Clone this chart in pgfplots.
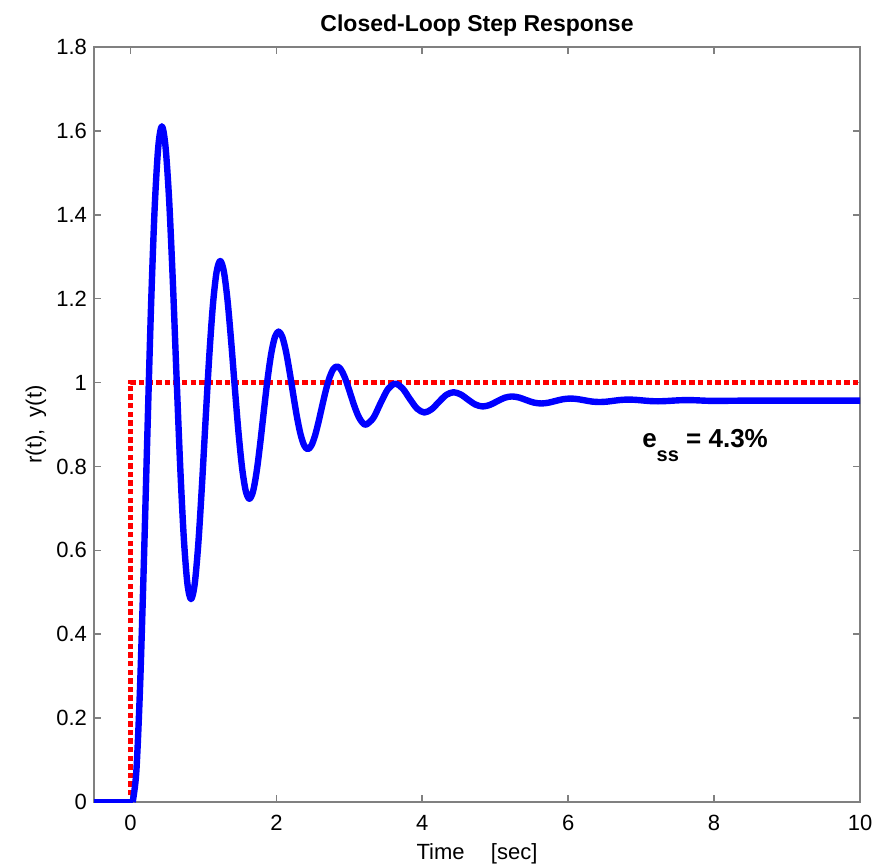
\documentclass[border=0pt]{standalone}
\usepackage{fontspec}
\setmainfont{Liberation Sans}
\usepackage{pgfplots}
\pgfplotsset{compat=1.18}
\definecolor{axgray}{RGB}{128,128,128}
\begin{document}
\begin{tikzpicture}
\begin{axis}[
  at={(0,0)}, anchor=south west,
  scale only axis, width=383pt, height=377.5pt,
  xmin=-0.5, xmax=10, ymin=0, ymax=1.8,
  xtick={0,2,4,6,8,10},
  ytick={0,0.2,0.4,0.6,0.8,1,1.2,1.4,1.6,1.8},
  tick align=inside, xtick pos=both, ytick pos=both,
  xticklabel pos=bottom, yticklabel pos=left,
  major tick length=3.5pt,
  axis line style={axgray, line width=0.8pt},
  tick style={axgray, line width=0.8pt},
  /pgf/number format/assume math mode=true,
  every tick label/.append style={font=\fontsize{11}{13}\selectfont, text=black},
  xticklabel style={yshift=-3pt},
  title={Closed-Loop Step Response},
  title style={at={(axis description cs:0.5,1)}, anchor=base, yshift=1.5pt,
               font=\fontsize{11.5}{13}\selectfont\bfseries},
  xlabel={Time\hspace{1.2em}[sec]},
  xlabel style={at={(axis description cs:0.5,0)}, anchor=base, yshift=-28.5pt,
                font=\fontsize{11}{13}\selectfont},
  ylabel={r(t),\ \ y(t)},
  ylabel style={at={(axis description cs:-0.0757,0.5)}, anchor=center,
                font=\fontsize{11}{13}\selectfont},
]
% reference step r(t)
\addplot[red, line width=2.5pt, dash pattern=on 2.7pt off 1.6pt]
  coordinates {(-0.5,0) (0,0) (0,1) (10,1)};
% closed-loop output y(t)
\addplot[blue, line width=3.2pt, line join=round]
  coordinates {(-0.5,0) (0.03,0)};
\addplot[blue, line width=3.2pt, smooth, line join=round]
  coordinates {
  (0.03,0) (0.08,0.0717) (0.13,0.2679) (0.18,0.5493) (0.23,0.8671)
  (0.28,1.1714) (0.33,1.410) (0.38,1.560) (0.43,1.611) (0.48,1.563) (0.53,1.435)
  (0.58,1.2437) (0.63,1.0202) (0.68,0.8062) (0.73,0.6325) (0.78,0.5212) (0.83,0.4837)
  (0.88,0.5191) (0.93,0.6162) (0.98,0.7553) (1.03,0.9125) (1.08,1.0631) (1.13,1.1852)
  (1.18,1.2635) (1.23,1.2899) (1.28,1.2650) (1.33,1.1967) (1.38,1.0988) (1.43,0.9883)
  (1.48,0.8824) (1.53,0.7965) (1.58,0.7415) (1.63,0.7229) (1.68,0.7404) (1.73,0.7884)
  (1.78,0.8573) (1.83,0.9350) (1.88,1.0095) (1.93,1.0699) (1.98,1.1086) (2.03,1.1216)
  (2.08,1.1093) (2.13,1.0756) (2.18,1.0271) (2.23,0.9725) (2.28,0.9201) (2.33,0.8776)
  (2.38,0.8504) (2.43,0.8412) (2.48,0.8499) (2.53,0.8736) (2.58,0.9077) (2.63,0.9461)
  (2.68,0.9829) (2.73,1.0128) (2.78,1.0320) (2.83,1.0384) (2.88,1.0323) (2.93,1.0156)
  (2.98,0.9917) (3.03,0.9646) (3.08,0.9387) (3.13,0.9177) (3.18,0.9043) (3.23,0.8997)
  (3.33,0.9158) (3.43,0.9516)
  (3.53,0.9846) (3.63,0.9973) (3.73,0.9860) (3.83,0.9608) (3.93,0.9376) (4.03,0.9287)
  (4.13,0.9366) (4.23,0.9543) (4.33,0.9707) (4.43,0.9769) (4.53,0.9713) (4.63,0.9589)
  (4.73,0.9474) (4.83,0.9430) (4.93,0.9469) (5.03,0.9557) (5.13,0.9638) (5.23,0.9669)
  (5.33,0.9641) (5.43,0.9579) (5.53,0.9522) (5.63,0.9501) (5.73,0.9520) (5.83,0.9563)
  (5.93,0.9603) (6.03,0.9619) (6.13,0.9605) (6.23,0.9575) (6.33,0.9546) (6.43,0.9536)
  (6.53,0.9545) (6.63,0.9567) (6.73,0.9587) (6.83,0.9594) (6.93,0.9587) (7.03,0.9572)
  (7.13,0.9558) (7.23,0.9553) (7.33,0.9558) (7.43,0.9568) (7.53,0.9578) (7.63,0.9582)
  (7.73,0.9579) (7.83,0.9571) (7.93,0.9564) (8.03,0.9562) (8.5,0.9570) (9,0.9570)
  (10,0.9570)};
\node[anchor=base west, inner sep=0pt, font=\fontsize{13}{15}\selectfont\bfseries]
  at (axis cs:7.01,0.844) {e\raisebox{-6.8pt}{\fontsize{10}{12}\selectfont ss} = 4.3\%};
\end{axis}
\pgfresetboundingbox
\path (-47pt,-32pt) rectangle (396.5pt,401pt);
\end{tikzpicture}
\end{document}
